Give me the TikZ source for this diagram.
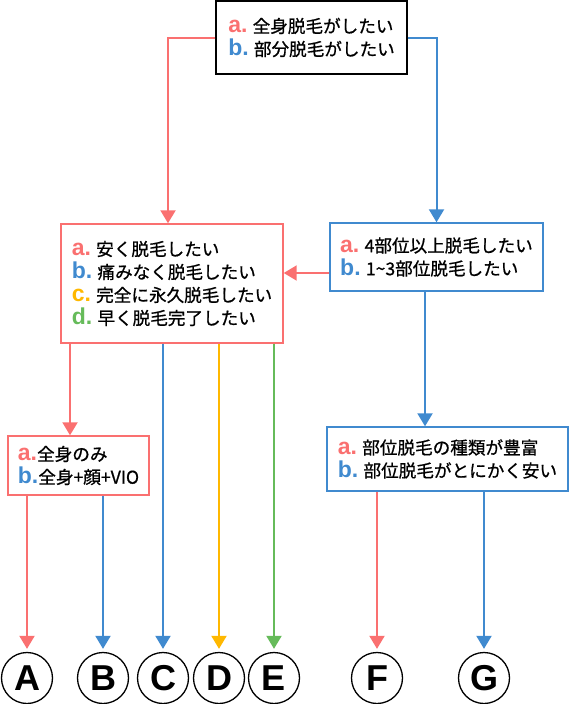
\documentclass[tikz,border=0pt]{standalone}
\usepackage{fontspec}
\setmainfont{Noto Sans CJK JP}[FakeBold=0.8]
\newfontfamily\lblfont{Liberation Sans}
\usepackage{xcolor}
\usetikzlibrary{arrows.meta, positioning}
\definecolor{myred}{RGB}{250,112,112}
\definecolor{myblue}{RGB}{64,138,207}
\definecolor{myyellow}{RGB}{255,184,0}
\definecolor{mygreen}{RGB}{102,187,90}
\newcommand{\lbl}[2]{{\lblfont\bfseries\fontsize{23}{22}\selectfont\color{#1}#2}}

\begin{document}
\begin{tikzpicture}[x=1pt, y=-1pt,
    box/.style={draw=#1, line width=1.4pt, align=left, inner sep=0pt,
        font=\fontsize{17.6}{23}\selectfont},
    flow/.style={draw=#1, line width=2pt, -{Triangle[width=15pt,length=13pt]}},
    letter/.style={circle, draw, line width=1.3pt, minimum size=51pt, inner sep=0pt,
        font=\lblfont\bfseries\fontsize{36}{36}\selectfont}]
    \useasboundingbox (0,0) rectangle (570,704);
    \node[box=black, minimum width=191pt, minimum height=73pt] (goal) at (311.5,37.5)
        {\lbl{myred}{a.} 全身脱毛がしたい\\ \lbl{myblue}{b.} 部分脱毛がしたい};
    \node[box=myred, minimum width=222pt, minimum height=119pt] (wish) at (172,283.5)
        {\lbl{myred}{a.} 安く脱毛したい\\ \lbl{myblue}{b.} 痛みなく脱毛したい\\
         \lbl{myyellow}{c.} 完全に永久脱毛したい\\ \lbl{mygreen}{d.} 早く脱毛完了したい};
    \node[box=myblue, minimum width=213pt, minimum height=68pt] (area) at (436.5,257)
        {\lbl{myred}{a.} 4部位以上脱毛したい\\ \lbl{myblue}{b.} 1\textasciitilde3部位脱毛したい};
    \node[box=myred, minimum width=141pt, minimum height=59pt] (full) at (78.5,465.5)
        {\lbl{myred}{a.}全身のみ\\ \lbl{myblue}{b.}全身+顔+VIO};
    \node[box=myblue, minimum width=241pt, minimum height=64pt] (part) at (447.5,459)
        {\lbl{myred}{a.} 部位脱毛の種類が豊富\\ \lbl{myblue}{b.} 部位脱毛がとにかく安い};
    \foreach \n/\x in {A/27,B/103,C/163,D/219,E/274,F/377,G/484} {
        \node[letter] (\n) at (\x,678) {\n};
    }
    \draw[flow=myred] (goal.west) -| ([xshift=-4pt]wish.north);
    \draw[flow=myblue] (goal.east) -| (area.north);
    \path ([yshift=-16pt]area.west) coordinate (aw) (70,0) coordinate (fx) (425,0) coordinate (px);
    \draw[flow=myred] (aw) -- (aw -| wish.east);
    \draw[flow=myred] (wish.south -| fx) -- (full.north -| fx);
    \draw[flow=myblue] (area.south -| px) -- (part.north -| px);
    \foreach \src/\dst/\col in {full/A/myred,full/B/myblue,wish/C/myblue,wish/D/myyellow,
        wish/E/mygreen,part/F/myred,part/G/myblue} {
        \draw[flow=\col] (\src.south -| \dst.north) -- ([yshift=3pt]\dst.north);
    }
\end{tikzpicture}
\end{document}
